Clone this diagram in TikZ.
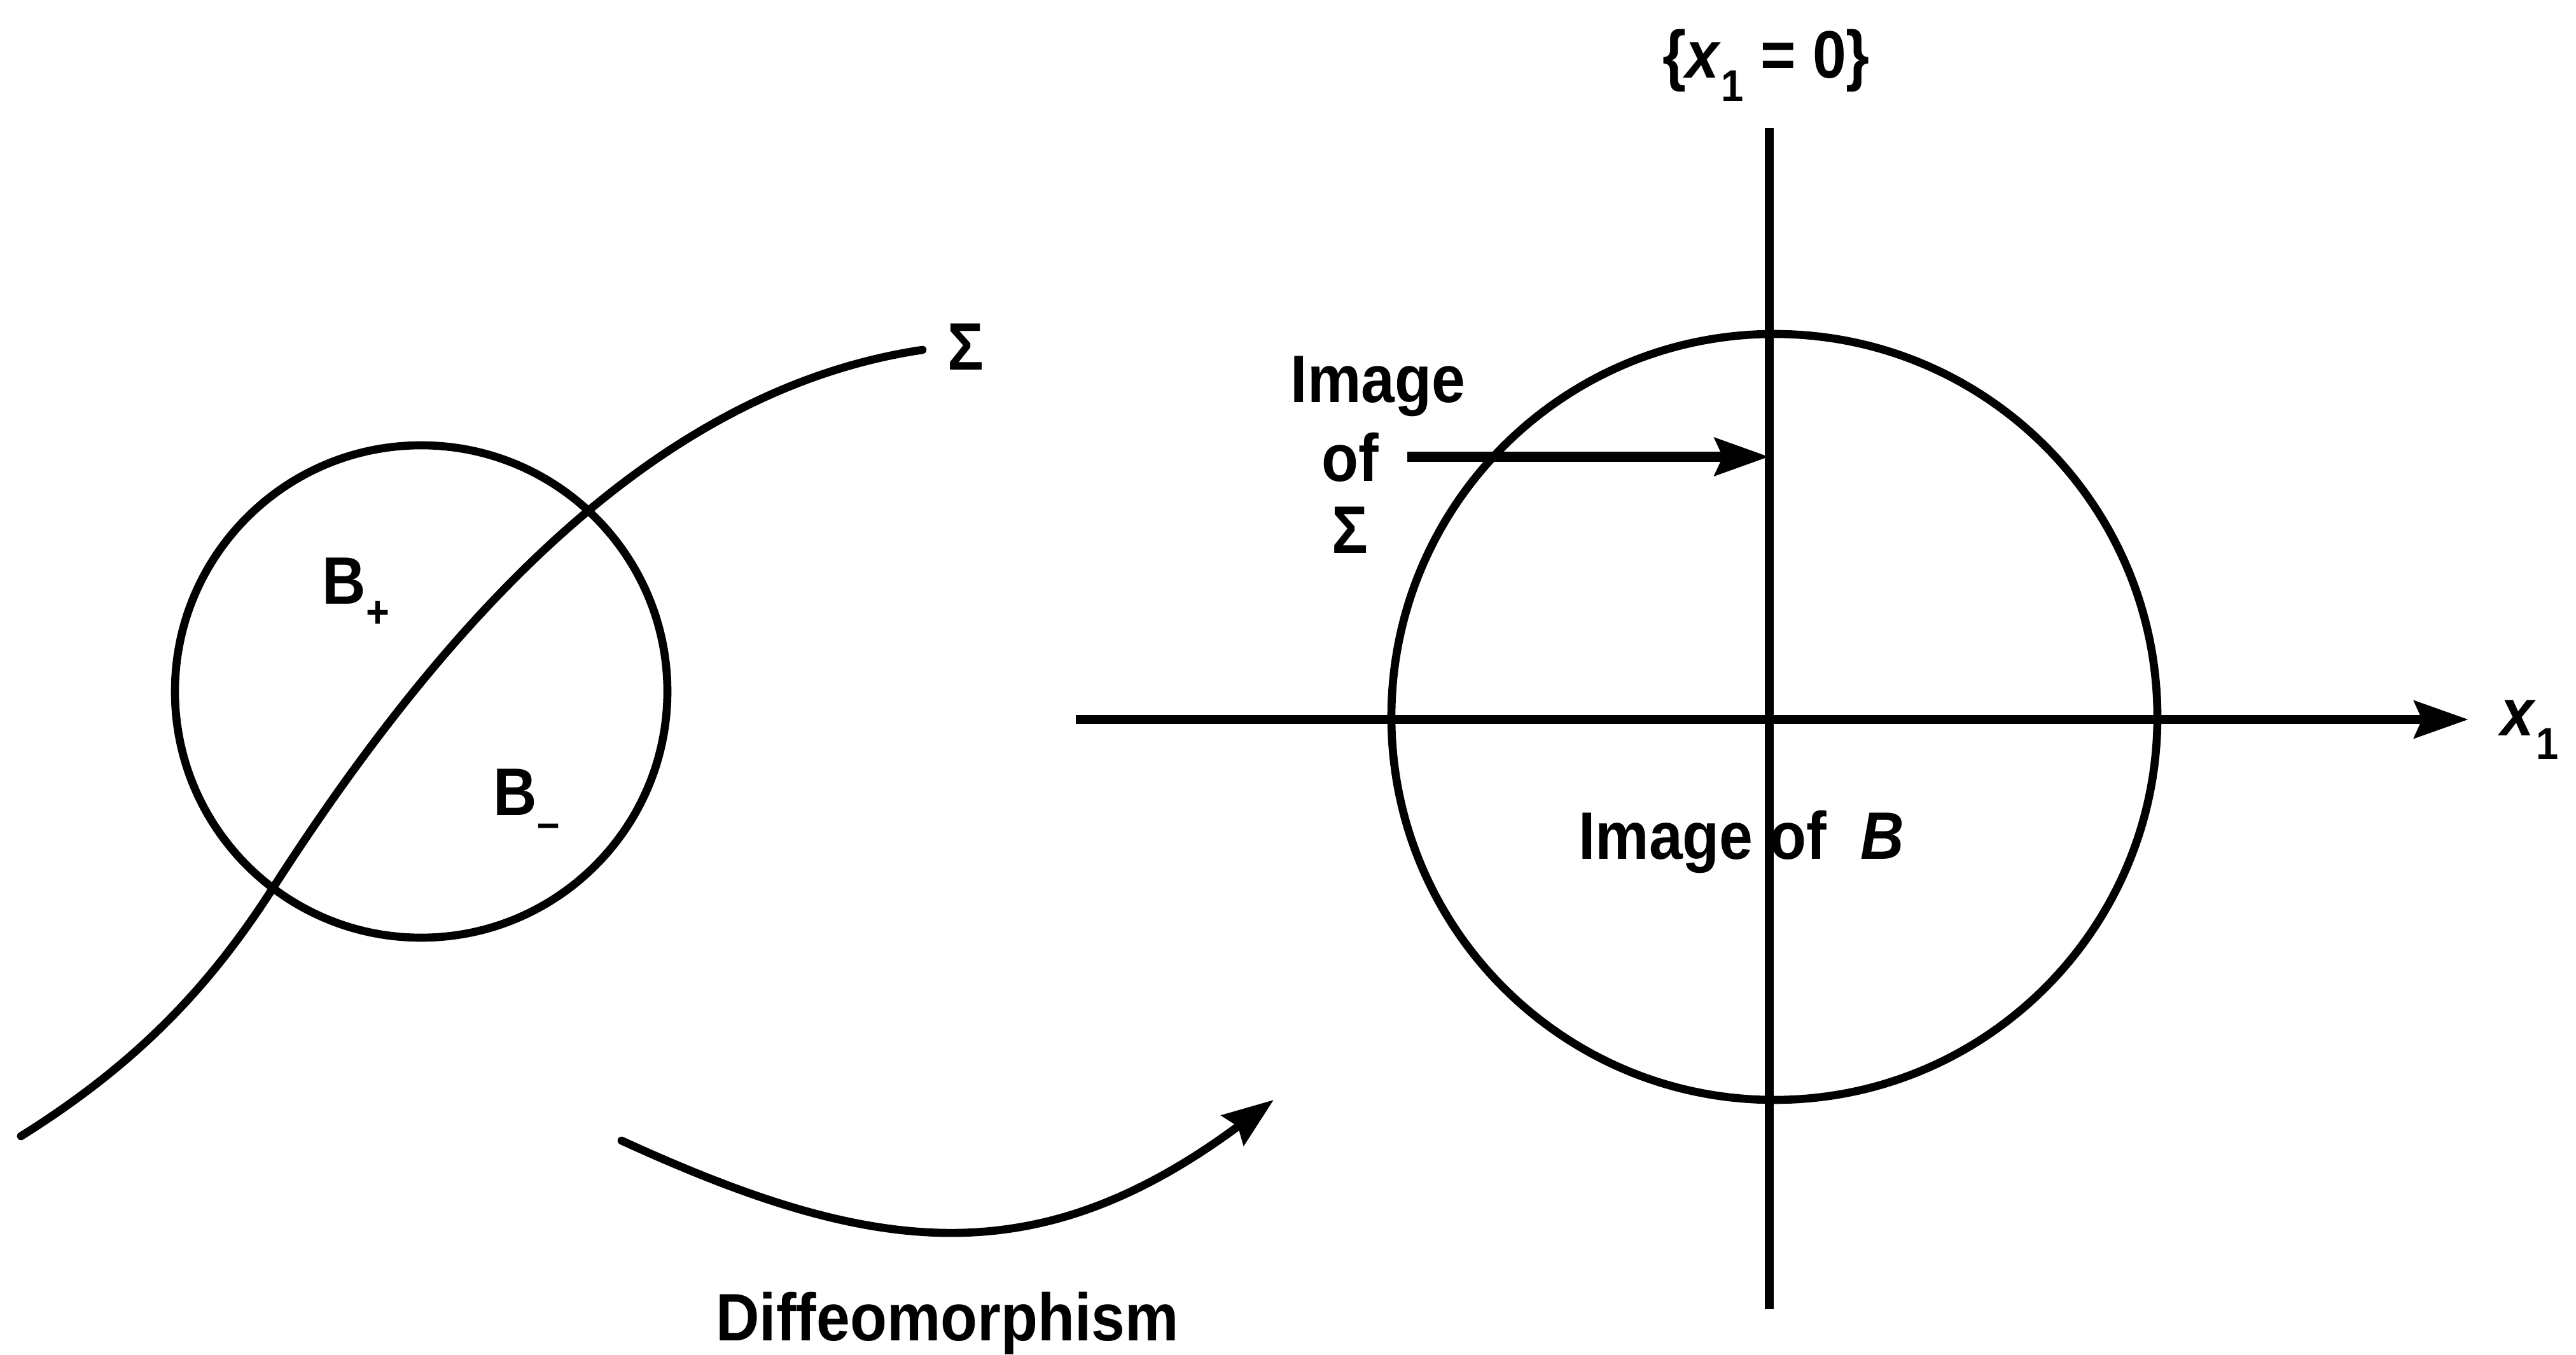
\documentclass[tikz,border=0pt]{standalone}
\usepackage{fontspec}
\setmainfont{Liberation Sans}[FakeStretch=0.9]
\usetikzlibrary{arrows.meta, positioning}
\newcommand{\lowsub}[1]{\raisebox{-0.35em}{\fontsize{20}{20}\selectfont #1}}

\begin{document}
\begin{tikzpicture}[>={Stealth[length=8.5mm,width=5.8mm,inset=1.2mm]},
  every node/.style={inner sep=0pt, font=\fontsize{30}{34}\selectfont\bfseries},
  curve/.style={line width=3.6pt, line cap=round},
  axis/.style={line width=4.2pt}]
  \useasboundingbox (0,0) rectangle (40.49,21.29);
  % ball B cut by the surface
  \draw[curve] (6.62,10.42) circle (3.87);
  \draw[curve] (0.33,3.43) .. controls (2.20,4.60) and (3.32,5.82) .. (4.29,7.33)
    .. controls (7.26,11.95) and (10.54,15.20) .. (14.50,15.79);
  \node[anchor=base] (sig) at (15.18,15.47) {Σ};
  \node[anchor=base west] (bplus) at (5.06,11.79) {B\lowsub{+}};
  \node[anchor=base west] (bminus) at (7.75,8.48) {B\lowsub{–}};
  % the map
  \coordinate (dstart) at (9.77,3.36);
  \coordinate (dend) at (20.02,4.00);
  \draw[curve, -{Stealth[length=8mm,width=5.8mm,inset=1mm]}] (dstart)
    .. controls (13.68,1.57) and (16.25,1.20) .. (dend);
  \node[anchor=base] (diff) at (14.89,0.22) {Diffeomorphism};
  % image of the ball, x-coordinates
  \coordinate (xl) at (16.91,9.98);
  \coordinate (xr) at (38.80,9.98);
  \coordinate (yt) at (27.81,19.28);
  \coordinate (yb) at (27.81,0.71);
  \draw[axis, ->] (xl) -- (xr);
  \draw[axis] (yb) -- (yt);
  \draw[curve] (27.89,10.02) circle (6.02);
  \node[anchor=base west] (xone) at (39.30,9.72) {\textit{x}\lowsub{1}};
  \node[anchor=base] (plane) at (27.76,20.06) {\{\textit{x}\lowsub{1} = 0\}};
  \node[anchor=base] (imgB) at (27.37,7.79) {Image of\enspace\textit{B}};
  % label and arrow to the flat part
  \node[anchor=base] (img) at (21.66,14.96) {Image};
  \node[anchor=base] (ofl) at (21.22,13.72) {of};
  \node[anchor=base] (sigimg) at (21.22,12.59) {Σ};
  \coordinate (sigstart) at (22.12,14.11);
  \coordinate (sigend) at (27.81,14.11);
  \draw[axis, line width=4.8pt, ->] (sigstart) -- (sigend);
\end{tikzpicture}
\end{document}
